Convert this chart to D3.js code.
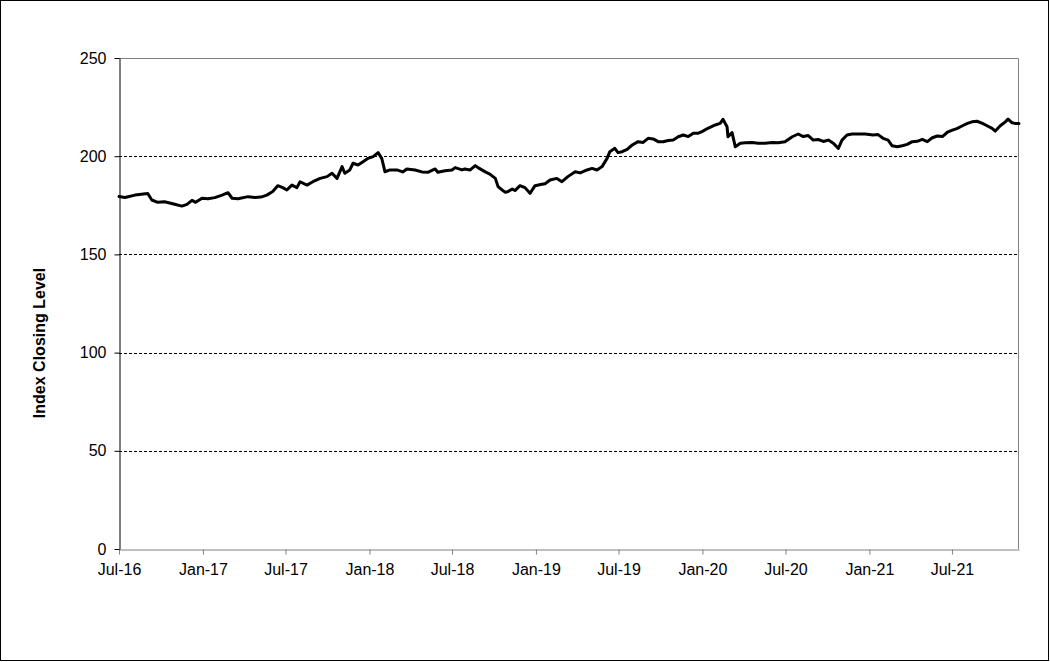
<!DOCTYPE html>
<html><head><meta charset="utf-8">
<script src="https://cdn.jsdelivr.net/npm/d3@7"></script>
<style>html,body{margin:0;padding:0;background:#fff;}svg{display:block;}</style>
</head><body>
<svg id="chart" width="1050" height="662"></svg>
<script>
const dates = ["2016-07-01","2016-07-14","2016-08-05","2016-09-02","2016-09-11","2016-09-24","2016-10-09","2016-10-31","2016-11-16","2016-11-27","2016-12-08","2016-12-16","2016-12-30",
"2017-01-12","2017-01-27","2017-02-12","2017-02-25","2017-03-06","2017-03-19","2017-04-10","2017-04-25","2017-05-08","2017-05-21","2017-06-03","2017-06-14","2017-06-25","2017-07-04","2017-07-15","2017-07-26","2017-08-02","2017-08-17","2017-08-30","2017-09-15","2017-09-30","2017-10-11","2017-10-22","2017-11-02","2017-11-08","2017-11-19","2017-11-26","2017-12-07","2017-12-18","2017-12-29",
"2018-01-09","2018-01-20","2018-01-28","2018-02-04","2018-02-15","2018-03-02","2018-03-15","2018-03-24","2018-04-11","2018-04-26","2018-05-09","2018-05-25","2018-05-31","2018-06-16","2018-07-01","2018-07-08","2018-07-23","2018-07-29","2018-08-10","2018-08-21","2018-08-27","2018-09-12","2018-09-22","2018-10-04","2018-10-10","2018-10-19","2018-10-26","2018-11-01","2018-11-10","2018-11-16","2018-11-27","2018-12-08","2018-12-19","2018-12-30",
"2019-01-14","2019-01-21","2019-02-01","2019-02-16","2019-02-27","2019-03-12","2019-03-28","2019-04-08","2019-04-23","2019-05-04","2019-05-15","2019-05-26","2019-06-06","2019-06-12","2019-06-23","2019-06-30","2019-07-09","2019-07-20","2019-07-31","2019-08-13","2019-08-24","2019-09-04","2019-09-15","2019-09-26","2019-10-07","2019-10-18","2019-10-29","2019-11-09","2019-11-20","2019-12-01","2019-12-12","2019-12-23","2019-12-31",
"2020-01-13","2020-01-29","2020-02-09","2020-02-15","2020-02-24","2020-02-26","2020-03-06","2020-03-13","2020-03-24","2020-04-04","2020-04-19","2020-05-02","2020-05-17","2020-06-02","2020-06-15","2020-06-30","2020-07-16","2020-07-29","2020-08-09","2020-08-20","2020-08-31","2020-09-11","2020-09-22","2020-10-03","2020-10-14","2020-10-25","2020-11-02","2020-11-13","2020-11-24","2020-12-07","2020-12-23",
"2021-01-09","2021-01-20","2021-01-31","2021-02-11","2021-02-20","2021-03-03","2021-03-14","2021-03-25","2021-04-05","2021-04-16","2021-04-27","2021-05-08","2021-05-19","2021-05-30","2021-06-10","2021-06-21","2021-07-02","2021-07-13","2021-07-24","2021-08-04","2021-08-14","2021-08-25","2021-09-06","2021-09-16","2021-09-27","2021-10-04","2021-10-15","2021-10-26","2021-11-01","2021-11-10","2021-11-16","2021-11-25"];
const values = [179.5,179.0,180.2,181.0,177.7,176.5,176.8,175.5,174.6,175.5,177.5,176.5,178.6,
178.3,178.9,180.2,181.4,178.6,178.3,179.4,179.0,179.2,180.2,182.0,185.0,184.0,182.8,185.3,184.0,187.0,185.3,187.0,188.7,189.6,191.3,188.7,194.7,191.3,193.0,196.4,195.5,197.2,198.9,
199.8,201.8,198.9,192.1,193.0,193.0,192.0,193.5,193.0,192.0,191.8,193.5,191.8,192.6,193.0,194.2,193.0,193.5,193.0,195.2,194.2,192.0,190.9,188.7,184.5,182.8,181.6,182.0,183.3,182.5,185.0,184.0,181.1,185.0,
185.7,186.0,187.9,188.7,187.0,189.6,192.1,191.5,193.0,193.8,193.0,194.7,198.9,202.3,204.0,201.8,202.3,203.5,205.7,207.4,207.0,209.1,208.8,207.4,207.4,208.0,208.3,209.9,210.8,210.0,211.7,211.7,212.5,
214.2,215.9,216.7,218.8,215.0,209.9,212.0,204.8,206.6,206.9,207.0,206.6,206.6,207.0,206.8,207.4,209.9,211.3,210.0,210.5,208.2,208.5,207.5,208.2,206.6,204.0,208.2,210.8,211.3,211.3,211.3,
210.8,211.0,209.1,208.2,205.3,204.8,205.3,206.0,207.4,207.6,208.6,207.4,209.4,210.3,210.0,212.2,213.3,214.2,215.5,216.7,217.5,217.8,216.7,215.5,214.2,212.8,215.5,217.5,218.9,217.0,216.7,216.7];
const yTicks = [0,50,100,150,200,250];
const gridValues = [50,100,150,200];
const yTitle = "Index Closing Level";
const xStart = "2016-07-01", xEnd = "2021-11-25";

const parse = d3.utcParse("%Y-%m-%d");
const data = dates.map((d,i)=>({date:parse(d), value:values[i]}));

const svg = d3.select("#chart");
const L=119, R=1019, T=58, B=549;
const x = d3.scaleUtc().domain([parse(xStart), parse(xEnd)]).range([L,R]);
const y = d3.scaleLinear().domain([0,250]).range([B,T]);
const font = "'Liberation Sans', Arial, sans-serif";

// outer frame
svg.append("rect").attr("x",0.5).attr("y",0.5).attr("width",1048).attr("height",660)
  .attr("fill","#fff").attr("stroke","#000").attr("stroke-width",1);

// gridlines
svg.append("g").selectAll("line").data(gridValues).join("line")
  .attr("x1",L).attr("x2",R).attr("y1",d=>Math.round(y(d))+0.5).attr("y2",d=>Math.round(y(d))+0.5)
  .attr("stroke","#000").attr("stroke-width",1).attr("stroke-dasharray","3,2");

// plot border top/right (gray)
svg.append("path").attr("d",`M${L},${T+0.5}H${R-0.5}V${B}`).attr("fill","none").attr("stroke","#808080").attr("stroke-width",1);

// x axis
const xAxis = d3.axisBottom(x).ticks(d3.utcMonth.every(6)).tickFormat(d3.utcFormat("%b-%y")).tickSize(5).tickSizeOuter(0).tickPadding(9);
const gx = svg.append("g").attr("transform",`translate(0,${B+0.5})`).call(xAxis);
gx.select(".domain").attr("stroke","#808080");
gx.selectAll(".tick line").attr("stroke","#808080");
gx.selectAll("text").attr("font-family",font).attr("font-size","16px").attr("fill","#000");

// y axis
const yAxis = d3.axisLeft(y).tickValues(yTicks).tickSize(5).tickSizeOuter(0).tickPadding(8);
const gy = svg.append("g").attr("transform",`translate(${L+0.5},0)`).call(yAxis);
gy.select(".domain").attr("stroke","#000");
gy.selectAll(".tick line").attr("stroke","#000");
gy.selectAll("text").attr("font-family",font).attr("font-size","16px").attr("fill","#000");

// line
const line = d3.line().x(d=>x(d.date)).y(d=>y(d.value)).curve(d3.curveLinear);
svg.append("path").datum(data).attr("d",line).attr("fill","none").attr("stroke","#000")
  .attr("stroke-width",3).attr("stroke-linejoin","round").attr("stroke-linecap","round");

// y title
svg.append("text").attr("transform","translate(45,343) rotate(-90)").attr("text-anchor","middle")
  .attr("font-family",font).attr("font-size","16px").attr("font-weight","bold").attr("fill","#000").text(yTitle);
</script>
</body></html>
